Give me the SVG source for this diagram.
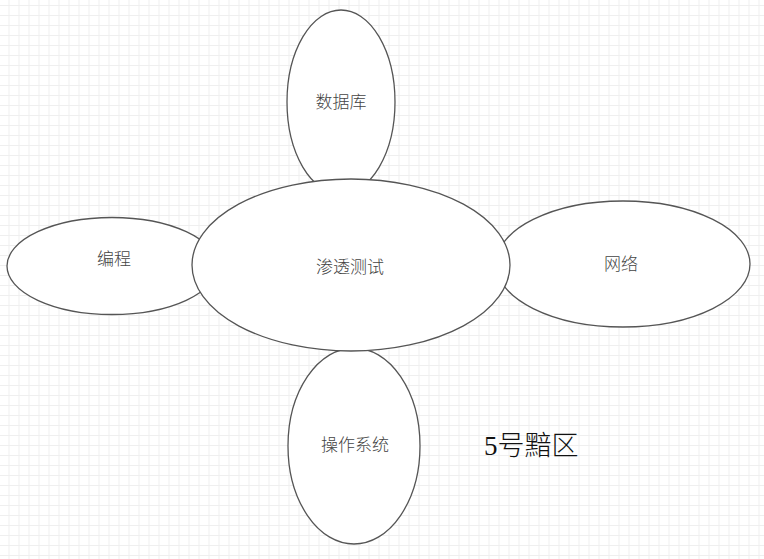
<svg xmlns="http://www.w3.org/2000/svg" width="764" height="559" viewBox="0 0 764 559">
<defs>
<pattern id="grid" width="10" height="10" patternUnits="userSpaceOnUse">
<path d="M9 0V10M0 5.5H10" stroke="#efefef" stroke-width="1" fill="none"/>
</pattern>
<style>
.node ellipse{fill:#fff;stroke:#555;stroke-width:1.3}
.lbl{font-family:"Noto Sans CJK SC","Liberation Sans",sans-serif;font-size:17px;font-weight:300;fill:#444;text-anchor:middle;dominant-baseline:central}
.title{font-family:"Liberation Serif","Noto Sans CJK SC",serif;font-size:27px;font-weight:300;fill:#111}
</style>
</defs>
<rect width="764" height="559" fill="#fff"/>
<rect width="764" height="559" fill="url(#grid)"/>
<g id="node-db" class="node">
<ellipse cx="341" cy="102" rx="54" ry="92"/>
<text class="lbl" x="341" y="100">数据库</text>
</g>
<g id="node-prog" class="node">
<ellipse cx="112" cy="266" rx="105" ry="48.5"/>
<text class="lbl" x="114" y="257.5">编程</text>
</g>
<g id="node-net" class="node">
<ellipse cx="623" cy="264" rx="127" ry="63"/>
<text class="lbl" x="621" y="262">网络</text>
</g>
<g id="node-os" class="node">
<ellipse cx="354" cy="446" rx="66" ry="98"/>
<text class="lbl" x="355" y="443.5">操作系统</text>
</g>
<g id="node-pentest" class="node">
<ellipse cx="351" cy="265" rx="159" ry="86"/>
<text class="lbl" x="350" y="265.5">渗透测试</text>
</g>
<g id="title">
<text class="title" x="484" y="455">5号黯区</text>
</g>
</svg>
